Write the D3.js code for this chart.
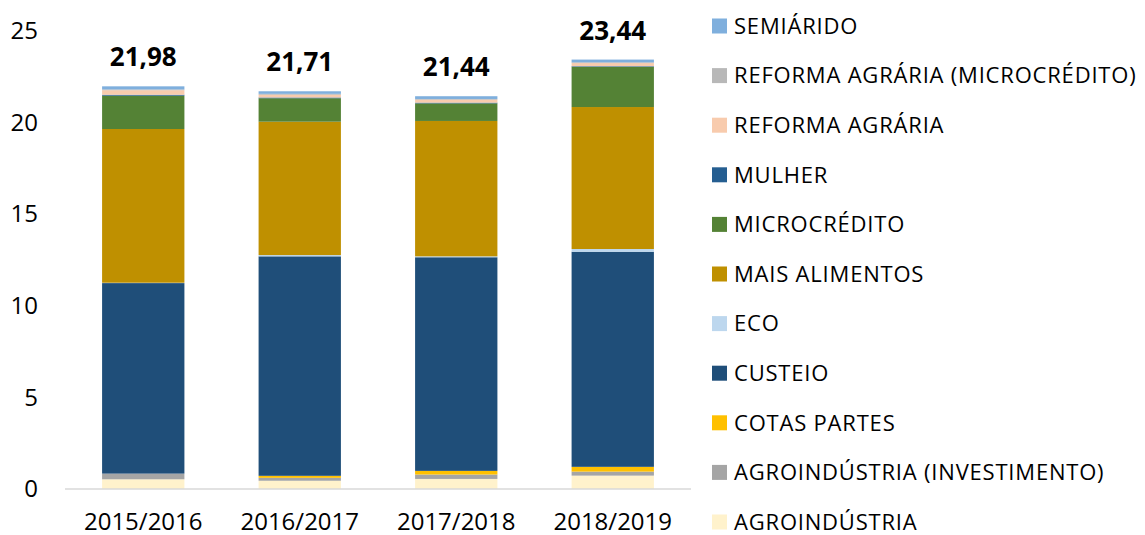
<!DOCTYPE html>
<html>
<head>
<meta charset="utf-8">
<script src="https://cdn.jsdelivr.net/npm/d3@7"></script>
<style type="text/css">
  body{
    margin: 0px;
    background: white;
    font-family: 'Open Sans', sans-serif;
  }
  .axis text{
    fill: #000;
  }
</style>
</head>
<body>
<svg id="chart" width="1145" height="535"></svg>
<script>

var categories = ['2015/2016', '2016/2017', '2017/2018', '2018/2019'];
var totals = ['21,98', '21,71', '21,44', '23,44'];

// series, bottom to top
var agroindustria      = [0.53, 0.45, 0.55, 0.73];
var agroInvestimento   = [0.31, 0.16, 0.24, 0.22];
var cotasPartes        = [0.00, 0.11, 0.20, 0.26];
var custeio            = [10.40, 11.98, 11.66, 11.74];
var eco                = [0.02, 0.07, 0.05, 0.15];
var maisAlimentos      = [8.39, 7.28, 7.39, 7.75];
var microcredito       = [1.82, 1.28, 0.96, 2.20];
var mulher             = [0.05, 0.04, 0.04, 0.03];
var reformaAgraria     = [0.25, 0.15, 0.16, 0.17];
var reformaMicro       = [0.04, 0.05, 0.04, 0.04];
var semiarido          = [0.17, 0.14, 0.15, 0.15];

var yTicks = [0, 5, 10, 15, 20, 25];

var series = [
  {name: 'AGROINDÚSTRIA', values: agroindustria, color: '#fff2cc'},
  {name: 'AGROINDÚSTRIA (INVESTIMENTO)', values: agroInvestimento, color: '#a5a5a5'},
  {name: 'COTAS PARTES', values: cotasPartes, color: '#ffc000'},
  {name: 'CUSTEIO', values: custeio, color: '#1f4e79'},
  {name: 'ECO', values: eco, color: '#bdd7ee'},
  {name: 'MAIS ALIMENTOS', values: maisAlimentos, color: '#bf9000'},
  {name: 'MICROCRÉDITO', values: microcredito, color: '#548235'},
  {name: 'MULHER', values: mulher, color: '#255e91'},
  {name: 'REFORMA AGRÁRIA', values: reformaAgraria, color: '#f8cbad'},
  {name: 'REFORMA AGRÁRIA (MICROCRÉDITO)', values: reformaMicro, color: '#b8b8b8'},
  {name: 'SEMIÁRIDO', values: semiarido, color: '#7fafdd'}
];

var rows = categories.map(function(c, i) {
  var r = {cat: c};
  series.forEach(function(s) { r[s.name] = s.values[i]; });
  return r;
});

var stacked = d3.stack().keys(series.map(function(s) { return s.name; }))(rows);

var svg = d3.select('#chart');

var x = d3.scaleBand().domain(categories).range([65, 691]).paddingInner(0.474).paddingOuter(0.237);
var y = d3.scaleLinear().domain([0, 25]).range([489, 31]);

// bars
svg.append('g')
  .selectAll('g')
  .data(stacked)
  .enter()
  .append('g')
  .attr('fill', function(d, i) { return series[i].color; })
  .selectAll('rect')
  .data(function(d) { return d; })
  .enter()
  .append('rect')
  .attr('x', function(d) { return x(d.data.cat); })
  .attr('width', x.bandwidth())
  .attr('y', function(d) { return y(d[1]); })
  .attr('height', function(d) { return y(d[0]) - y(d[1]); });

// baseline
svg.append('line')
  .attr('x1', 65).attr('x2', 691)
  .attr('y1', y(0)).attr('y2', y(0))
  .attr('stroke', '#d9d9d9')
  .attr('stroke-width', 1.5);

// y axis
var yAxis = svg.append('g')
  .attr('class', 'axis')
  .attr('transform', 'translate(38,0)')
  .call(d3.axisLeft(y).tickValues(yTicks).tickSize(0).tickPadding(0));
yAxis.select('.domain').remove();
yAxis.selectAll('text').attr('font-size', '24px').attr('font-family', 'Open Sans');

// x axis
var xAxis = svg.append('g')
  .attr('class', 'axis')
  .attr('transform', 'translate(0,' + 513 + ')')
  .call(d3.axisBottom(x).tickSize(0).tickPadding(0));
xAxis.select('.domain').remove();
xAxis.selectAll('text').attr('font-size', '24px').attr('font-family', 'Open Sans');

// totals
var lastLayer = stacked[stacked.length - 1];
svg.append('g')
  .selectAll('text')
  .data(lastLayer)
  .enter()
  .append('text')
  .attr('x', function(d) { return x(d.data.cat) + x.bandwidth() / 2; })
  .attr('y', function(d) { return y(d[1]) - 20; })
  .attr('text-anchor', 'middle')
  .attr('font-weight', 'bold')
  .attr('font-size', '26px')
  .text(function(d, i) { return totals[i]; });

// legend, top = last series
var legend = svg.append('g')
  .selectAll('g')
  .data(series.slice().reverse())
  .enter()
  .append('g')
  .attr('transform', function(d, i) { return 'translate(712,' + (26 + i * 49.6) + ')'; });

legend.append('rect')
  .attr('x', 0).attr('y', -7.5)
  .attr('width', 15).attr('height', 15)
  .attr('fill', function(d) { return d.color; });

legend.append('text')
  .attr('x', 22)
  .attr('dy', '0.35em')
  .attr('font-size', '22px')
  .attr('letter-spacing', '0.8px')
  .attr('fill', '#000')
  .text(function(d) { return d.name; });

</script>
</body>
</html>
